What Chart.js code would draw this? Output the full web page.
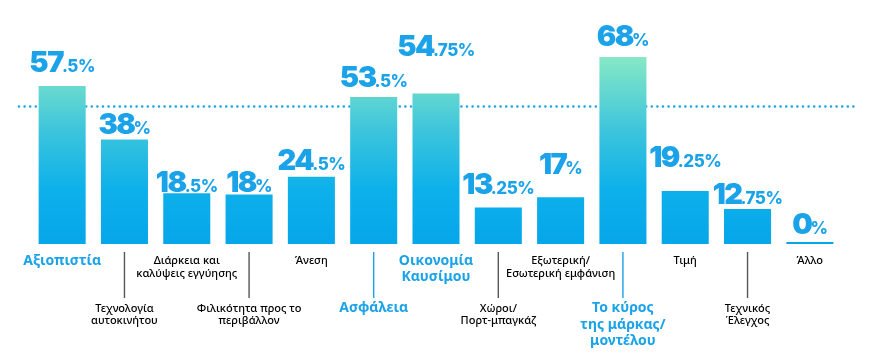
<!DOCTYPE html>
<html>
<head>
<meta charset="utf-8">
<script src="https://cdn.jsdelivr.net/npm/chart.js@4/dist/chart.umd.min.js"></script>
<style>
  html, body { margin: 0; padding: 0; background: #fff; }
  #wrap { width: 871px; height: 359px; position: relative; }
</style>
</head>
<body>
<div id="wrap"><canvas id="chart"></canvas></div>
<script>
// categories (one entry per line of the label)
const categories = [
  ['Αξιοπιστία'],
  ['Τεχνολογία', 'αυτοκινήτου'],
  ['Διάρκεια και', 'καλύψεις εγγύησης'],
  ['Φιλικότητα προς το', 'περιβάλλον'],
  ['Άνεση'],
  ['Ασφάλεια'],
  ['Οικονομία', 'Καυσίμου'],
  ['Χώροι/', 'Πορτ-μπαγκάζ'],
  ['Εξωτερική/', 'Εσωτερική εμφάνιση'],
  ['Το κύρος', 'της μάρκας/', 'μοντέλου'],
  ['Τιμή'],
  ['Τεχνικός', 'Έλεγχος'],
  ['Άλλο']
];
const values = [57.5, 38, 18.5, 18, 24.5, 53.5, 54.75, 13.25, 17, 68, 19.25, 12.75, 0];
const topPicks = [true, false, false, false, false, true, true, false, false, true, false, false, false];
const averageLine = 50;

// how far each value label sits above its bar (px)
const labelLift = [13.5, 5.4, 1.5, 3, 6.7, 9.8, 37, 13.3, 23.3, 10.6, 24.5, 4.7, 8];

const blue = '#1aa3e8';
const grey = '#555';
const bigFont = '900 29px Inter';
const smallFont = '800 17px Inter';

function barGradient(context) {
  const chart = context.chart;
  if (!chart.chartArea) return blue;
  const y = chart.scales.y;
  const g = chart.ctx.createLinearGradient(0, y.getPixelForValue(68), 0, y.getPixelForValue(0));
  g.addColorStop(0, '#86e8c5');
  g.addColorStop(0.4, '#3cc4dd');
  g.addColorStop(0.7, '#0db1ea');
  g.addColorStop(1, '#06a6ea');
  return g;
}

const averagePlugin = {
  id: 'averageLine',
  beforeDatasetsDraw(chart) {
    const ctx = chart.ctx;
    const y = chart.scales.y.getPixelForValue(averageLine);
    ctx.save();
    ctx.strokeStyle = blue;
    ctx.lineWidth = 2.6;
    ctx.lineCap = 'round';
    ctx.setLineDash([0, 5.6]);
    ctx.beginPath();
    ctx.moveTo(19, y);
    ctx.lineTo(857, y);
    ctx.stroke();
    ctx.restore();
  }
};

const valueLabelPlugin = {
  id: 'valueLabels',
  afterDatasetsDraw(chart) {
    const ctx = chart.ctx;
    const meta = chart.getDatasetMeta(0);
    ctx.save();
    ctx.fillStyle = blue;
    ctx.textBaseline = 'alphabetic';
    ctx.textAlign = 'left';
    meta.data.forEach((bar, i) => {
      const parts = String(values[i]).split('.');
      const big = parts[0];
      const small = (parts[1] ? '.' + parts[1] : '') + '%';
      ctx.letterSpacing = '-1.5px';
      ctx.font = bigFont;
      const wBig = ctx.measureText(big).width;
      ctx.letterSpacing = '-0.5px';
      ctx.font = smallFont;
      const wSmall = ctx.measureText(small).width;
      const gap = -1;
      const x = bar.x - (wBig + wSmall + gap) / 2;
      const top = Math.min(bar.y, bar.base - 2);
      const y = top - labelLift[i];
      ctx.letterSpacing = '-1.5px';
      ctx.font = bigFont;
      ctx.fillText(big, x, y);
      ctx.letterSpacing = '-0.5px';
      ctx.font = smallFont;
      ctx.fillText(small, x + wBig + gap, y);
    });
    ctx.restore();
  }
};

const categoryPlugin = {
  id: 'categoryLabels',
  afterDraw(chart) {
    const ctx = chart.ctx;
    const meta = chart.getDatasetMeta(0);
    ctx.save();
    ctx.textAlign = 'center';
    ctx.textBaseline = 'middle';
    meta.data.forEach((bar, i) => {
      const hot = topPicks[i];
      const lower = i % 2 === 1;
      const lineH = hot ? 16.5 : 12.5;
      const y = lower ? 308.5 : 261;
      if (lower) {
        ctx.strokeStyle = hot ? blue : grey;
        ctx.lineWidth = 1.4;
        ctx.beginPath();
        ctx.moveTo(bar.x, 252);
        ctx.lineTo(bar.x, 298);
        ctx.stroke();
      }
      ctx.fillStyle = hot ? blue : '#000';
      ctx.font = hot ? 'bold 14px "Noto Sans"' : '500 11px "Noto Sans"';
      categories[i].forEach((line, k) => {
        ctx.fillText(line, bar.x, y + k * lineH);
      });
    });
    ctx.restore();
  }
};

new Chart(document.getElementById('chart'), {
  type: 'bar',
  data: {
    labels: categories.map(c => c.join(' ')),
    datasets: [{
      data: values,
      backgroundColor: barGradient,
      borderWidth: 0,
      categoryPercentage: 1,
      barPercentage: 0.755,
      minBarLength: 2
    }]
  },
  options: {
    responsive: true,
    maintainAspectRatio: false,
    animation: false,
    layout: { padding: { left: 31, right: 30, top: 24, bottom: 115 } },
    plugins: { legend: { display: false }, tooltip: { enabled: false } },
    scales: {
      x: { display: false },
      y: { display: false, min: 0, max: 80 }
    }
  },
  plugins: [averagePlugin, valueLabelPlugin, categoryPlugin]
});
</script>
</body>
</html>
